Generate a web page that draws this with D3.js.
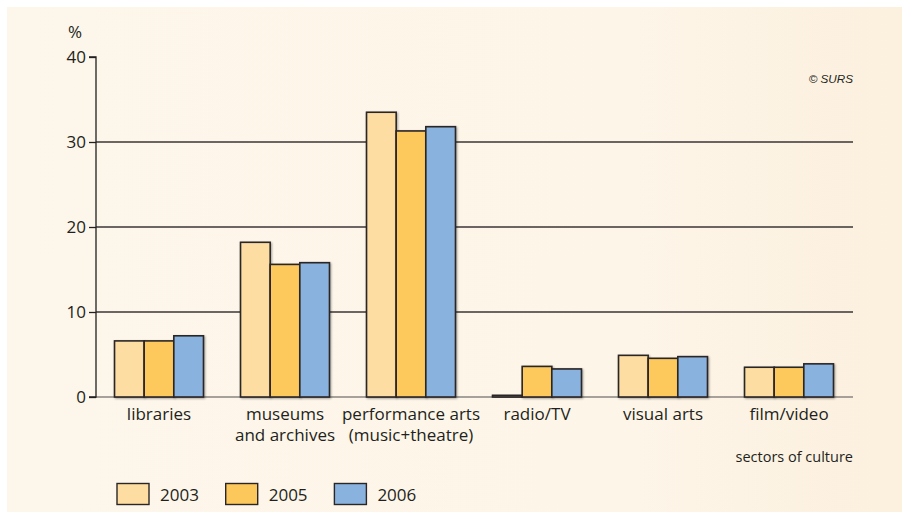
<!DOCTYPE html>
<html><head><meta charset="utf-8">
<script src="https://cdn.jsdelivr.net/npm/d3@7"></script>
<style>html,body{margin:0;padding:0;background:#fff;}svg{display:block;}</style>
</head><body>
<script>
const categories = [["libraries"],["museums","and archives"],["performance arts","(music+theatre)"],["radio/TV"],["visual arts"],["film/video"]];
const years = ["2003","2005","2006"];
const v2003 = [6.6, 18.2, 33.5, 0.2, 4.9, 3.5];
const v2005 = [6.6, 15.6, 31.3, 3.6, 4.55, 3.5];
const v2006 = [7.2, 15.8, 31.8, 3.3, 4.75, 3.9];
const yTicks = [0,10,20,30,40];
const colors = ["#FDDDA1","#FDC85B","#89B3DE"];
const series = [v2003, v2005, v2006];

const W=902,H=516;
const svg=d3.select("body").append("svg").attr("width",W).attr("height",H);
const defs=svg.append("defs");
const g0=defs.append("linearGradient").attr("id","bg").attr("x1","0").attr("x2","1").attr("y1","0").attr("y2","0");
g0.append("stop").attr("offset","0").attr("stop-color","#FDF6EA");
g0.append("stop").attr("offset","0.7").attr("stop-color","#FDF5E8");
g0.append("stop").attr("offset","1").attr("stop-color","#FCF0DE");
const f=defs.append("filter").attr("id","sh").attr("x","-20%").attr("y","-20%").attr("width","140%").attr("height","140%");
f.append("feGaussianBlur").attr("in","SourceAlpha").attr("stdDeviation","1").attr("result","b");
f.append("feOffset").attr("in","b").attr("dx",1).attr("dy",1).attr("result","o");
f.append("feComponentTransfer").attr("in","o").attr("result","o2").append("feFuncA").attr("type","linear").attr("slope",0.35);
const m=f.append("feMerge");m.append("feMergeNode").attr("in","o2");m.append("feMergeNode").attr("in","SourceGraphic");

svg.append("rect").attr("x",7).attr("y",7).attr("width",895).attr("height",505).attr("fill","url(#bg)");

const font="'Open Sans', 'Noto Sans', sans-serif";
const ink="#231F20";
const x0=d3.scaleBand().domain(d3.range(categories.length)).range([96,852]).paddingInner(0.294).paddingOuter(0.147);
const x1=d3.scaleBand().domain(d3.range(years.length)).range([0,x0.bandwidth()]);
const y=d3.scaleLinear().domain([0,40]).range([397,57]);

// gridlines
svg.append("g").selectAll("line").data(yTicks.filter(d=>d>0&&d<40)).join("line")
 .attr("x1",96).attr("x2",853).attr("y1",d=>y(d)).attr("y2",d=>y(d))
 .attr("stroke","#3A3436").attr("stroke-width",1.3);
// baseline
svg.append("line").attr("x1",96).attr("x2",853).attr("y1",y(0)).attr("y2",y(0)).attr("stroke","#8A8482").attr("stroke-width",1.5);

// y axis
const ya=svg.append("g").attr("transform","translate(96,0)").call(d3.axisLeft(y).tickValues(yTicks).tickSize(7).tickPadding(3));
ya.select(".domain").attr("stroke",ink).attr("stroke-width",1.3).attr("d","M-7,57H0V397H-7");
ya.selectAll(".tick line").attr("stroke",ink).attr("stroke-width",1.3);
ya.selectAll(".tick text").attr("fill",ink).attr("font-family",font).attr("font-size",17).attr("dy","0.35em");
svg.append("text").attr("x",75).attr("y",38).attr("text-anchor","middle").attr("font-family",font).attr("font-size",17).attr("fill",ink).text("%");

// bars
const grp=svg.append("g").selectAll("g").data(categories.map((c,i)=>i)).join("g").attr("transform",i=>`translate(${x0(i)},0)`);
grp.selectAll("rect").data(i=>series.map((s,k)=>({k,v:s[i]}))).join("rect")
 .attr("x",d=>x1(d.k)).attr("width",x1.bandwidth())
 .attr("y",d=>y(d.v)).attr("height",d=>y(0)-y(d.v))
 .attr("fill",d=>colors[d.k]).attr("stroke","#2A2526").attr("stroke-width",1.6).attr("filter","url(#sh)");

// category labels
const lab=svg.append("g").selectAll("text").data(categories.map((c,i)=>({c,i}))).join("text")
 .attr("x",d=>x0(d.i)+x0.bandwidth()/2).attr("y",420).attr("text-anchor","middle")
 .attr("font-family",font).attr("font-size",17).attr("fill",ink);
lab.selectAll("tspan").data(d=>d.c.map((t,j)=>({t,j,x:x0(d.i)+x0.bandwidth()/2}))).join("tspan")
 .attr("x",d=>d.x).attr("dy",d=>d.j?21:0).text(d=>d.t);

svg.append("text").attr("x",853).attr("y",462).attr("text-anchor","end").attr("font-family",font).attr("font-size",14.5).attr("fill",ink).text("sectors of culture");
svg.append("text").attr("x",853).attr("y",83).attr("text-anchor","end").attr("font-family","'Liberation Sans', Arial, sans-serif").attr("font-style","italic").attr("font-size",11.7).attr("fill",ink).text("© SURS");

// legend
const lg=svg.append("g").selectAll("g").data(years.map((yv,k)=>({yv,k}))).join("g").attr("transform",d=>`translate(${117+d.k*108.7},483.5)`);
lg.append("rect").attr("width",32).attr("height",21).attr("fill",d=>colors[d.k]).attr("stroke","#2A2526").attr("stroke-width",1.4);
lg.append("text").attr("x",43).attr("y",17).attr("font-family",font).attr("font-size",17).attr("fill",ink).text(d=>d.yv);
</script>
</body></html>
